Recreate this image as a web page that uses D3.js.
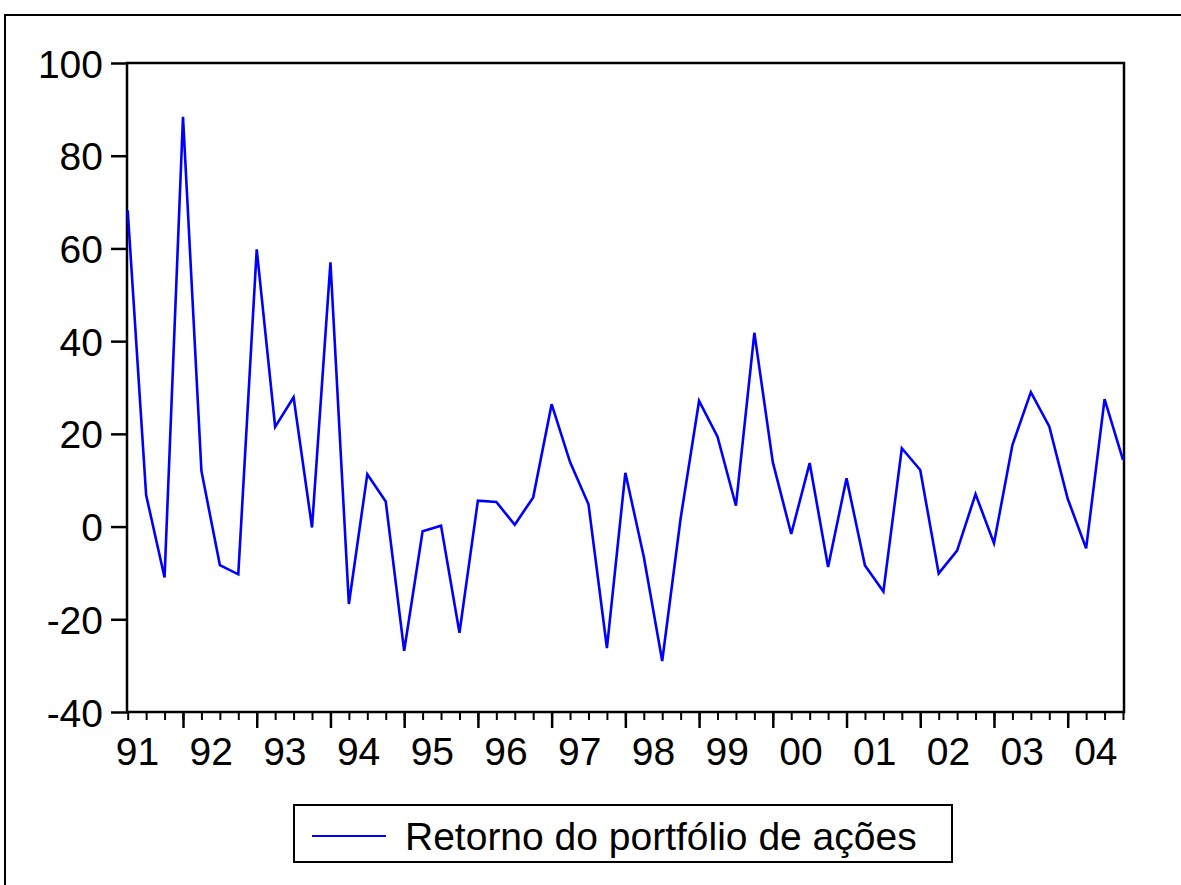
<!DOCTYPE html>
<html lang="pt">
<head>
  <meta charset="UTF-8">
  <title>Retorno do portfólio de ações</title>
  <script src="https://d3js.org/d3.v7.min.js"></script>
  <style>
    body { margin: 0; background: #fff; font-family: "Liberation Sans", Arial, sans-serif; }
    svg text { font-family: "Liberation Sans", Arial, sans-serif; fill: #000; }
  </style>
</head>
<body>
  <div id="chart"></div>

  <script>
    // Quarterly observations, 1991Q2 - 2004Q4
    const quarters = [
      "1991Q2","1991Q3","1991Q4",
      "1992Q1","1992Q2","1992Q3","1992Q4",
      "1993Q1","1993Q2","1993Q3","1993Q4",
      "1994Q1","1994Q2","1994Q3","1994Q4",
      "1995Q1","1995Q2","1995Q3","1995Q4",
      "1996Q1","1996Q2","1996Q3","1996Q4",
      "1997Q1","1997Q2","1997Q3","1997Q4",
      "1998Q1","1998Q2","1998Q3","1998Q4",
      "1999Q1","1999Q2","1999Q3","1999Q4",
      "2000Q1","2000Q2","2000Q3","2000Q4",
      "2001Q1","2001Q2","2001Q3","2001Q4",
      "2002Q1","2002Q2","2002Q3","2002Q4",
      "2003Q1","2003Q2","2003Q3","2003Q4",
      "2004Q1","2004Q2","2004Q3","2004Q4"
    ];
    const returns = [
      68.2, 6.8, -11.0,
      88.4, 12.0, -8.3, -10.3,
      59.8, 21.5, 27.9, -0.2,
      57.0, -16.7, 11.3, 5.4,
      -26.8, -1.0, 0.2, -22.9,
      5.6, 5.3, 0.4, 6.3,
      26.4, 13.9, 4.8, -26.2,
      11.6, -6.5, -29.0, 1.8,
      27.1, 19.4, 4.5, 41.8,
      13.9, -1.6, 13.7, -8.7,
      10.4, -8.4, -14.0, 16.9,
      12.2, -10.1, -5.2, 7.0,
      -3.6, 17.6, 29.0, 21.6,
      6.0, -4.7, 27.5, 14.4
    ];
    const years = [1991, 1992, 1993, 1994, 1995, 1996, 1997, 1998, 1999, 2000, 2001, 2002, 2003, 2004];
    const yearLabels = ["91","92","93","94","95","96","97","98","99","00","01","02","03","04"];
    const yTicks = [-40, -20, 0, 20, 40, 60, 80, 100];
    const seriesName = "Retorno do portfólio de ações";

    const W = 1181, H = 885;
    const plot = {left: 127, top: 63, right: 1124, bottom: 712};

    // quarter string -> decimal time
    const toT = s => +s.slice(0, 4) + (+s.slice(5) - 1) / 4;
    const data = quarters.map((q, i) => ({t: toT(q), v: returns[i]}));

    const svg = d3.select("#chart")
      .append("svg")
      .attr("width", W)
      .attr("height", H);

    // outer frame
    svg.append("rect")
      .attr("x", 5).attr("y", 15)
      .attr("width", W + 20).attr("height", H + 20)
      .attr("fill", "none")
      .attr("stroke", "#000")
      .attr("stroke-width", 2);

    const x = d3.scaleLinear()
      .domain(d3.extent(data, d => d.t))
      .range([plot.left + 0.7, plot.right - 1]);

    const y = d3.scaleLinear()
      .domain([-40, 100])
      .range([plot.bottom, plot.top]);

    // plot box
    svg.append("rect")
      .attr("x", plot.left).attr("y", plot.top)
      .attr("width", plot.right - plot.left)
      .attr("height", plot.bottom - plot.top)
      .attr("fill", "none")
      .attr("stroke", "#000")
      .attr("stroke-width", 2.5);

    // y axis (plain hyphen for negatives, as in the original)
    const yAxis = svg.append("g")
      .attr("transform", `translate(${plot.left},0)`)
      .call(d3.axisLeft(y).tickValues(yTicks).tickSize(16).tickPadding(8).tickFormat(d => String(d)));
    yAxis.select(".domain").remove();
    yAxis.selectAll("line").attr("stroke-width", 2.5);
    yAxis.selectAll("text").style("font-size", "39px").attr("dy", "0.36em");

    // quarter ticks (short)
    const xq = svg.append("g")
      .attr("transform", `translate(0,${plot.bottom})`)
      .call(d3.axisBottom(x).tickValues(data.map(d => d.t)).tickSize(8).tickFormat(""));
    xq.select(".domain").remove();
    xq.selectAll("line").attr("stroke-width", 2);

    // year ticks (long)
    const xy = svg.append("g")
      .attr("transform", `translate(0,${plot.bottom})`)
      .call(d3.axisBottom(x).tickValues(years.filter(v => v >= x.domain()[0])).tickSize(16).tickFormat(""));
    xy.select(".domain").remove();
    xy.selectAll("line").attr("stroke-width", 2.5);

    // year labels, centred on each year
    const xl = svg.append("g")
      .attr("transform", `translate(0,${plot.bottom})`)
      .call(d3.axisBottom(x).tickValues(years.map(v => v + 0.375)).tickSize(0).tickPadding(25)
        .tickFormat((d, i) => yearLabels[i]));
    xl.select(".domain").remove();
    xl.selectAll("text").style("font-size", "39px");

    // series line
    const line = d3.line()
      .x(d => x(d.t))
      .y(d => y(d.v));

    svg.append("path")
      .datum(data)
      .attr("fill", "none")
      .attr("stroke", "#0000ff")
      .attr("stroke-width", 2.6)
      .attr("stroke-linejoin", "miter")
      .attr("d", line);

    // legend
    const leg = svg.append("g");
    leg.append("rect")
      .attr("x", 294).attr("y", 805)
      .attr("width", 658).attr("height", 57)
      .attr("fill", "#fff")
      .attr("stroke", "#000")
      .attr("stroke-width", 2);
    leg.append("line")
      .attr("x1", 312).attr("x2", 386)
      .attr("y1", 836).attr("y2", 836)
      .attr("stroke", "#0000ff")
      .attr("stroke-width", 2);
    leg.append("text")
      .attr("x", 405).attr("y", 850)
      .style("font-size", "39px")
      .text(seriesName);
  </script>
</body>
</html>
